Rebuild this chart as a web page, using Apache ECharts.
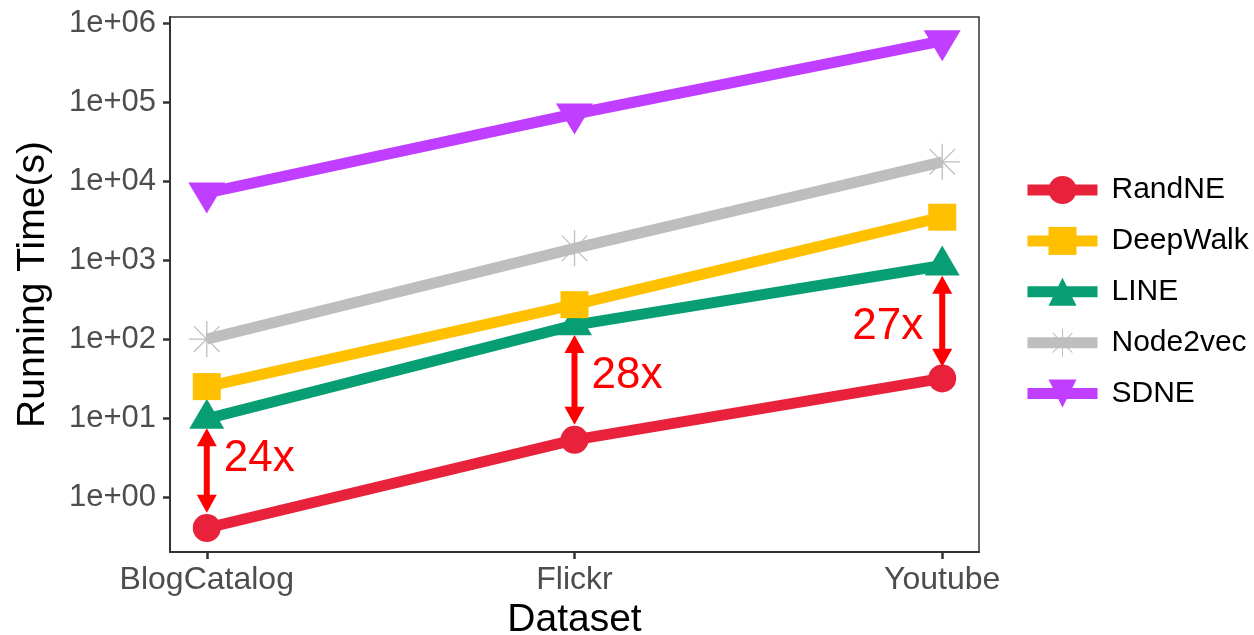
<!DOCTYPE html>
<html>
<head>
<meta charset="utf-8">
<script src="https://cdn.jsdelivr.net/npm/echarts@6/dist/echarts.min.js"></script>
<style>
  html, body { margin: 0; padding: 0; background: #ffffff; }
  #chart { width: 1254px; height: 635px; }
</style>
</head>
<body>
<div id="chart"></div>
<script>
// Running time (seconds) per embedding method on each dataset
const datasets = ['BlogCatalog', 'Flickr', 'Youtube'];
const randNE = [0.405, 5.3, 31.8];
const deepWalk = [25, 273, 3500];
const lineTimes = [9.8, 150, 855];
const node2vec = [100, 1410, 17600];
const sdne = [7100, 71000, 600000];

// Log-scale y ticks
const yTicks = [1, 10, 100, 1000, 10000, 100000, 1000000];
const yTickLabels = ['1e+00', '1e+01', '1e+02', '1e+03', '1e+04', '1e+05', '1e+06'];

// Speed-up annotations between LINE and RandNE
const speedupLabels = ['24x', '28x', '27x'];
const arrowTop = [7.4, 113, 636];
const arrowBottom = [0.63, 8.2, 44.7];
const speedupLabelAt = [3.0, 34, 144];

const FONT = '"Liberation Sans", Arial, Helvetica, sans-serif';
const xs = datasets.map((_, i) => i);
const pairs = vals => vals.map((v, i) => [xs[i], v]);

// 8-armed asterisk built from four thin bars
const STAR = 'path://M0 48.2 L100 48.2 L100 51.8 L0 51.8 Z ' +
  'M48.2 0 L51.8 0 L51.8 100 L48.2 100 Z ' +
  'M15.9 13.4 L86.6 84.1 L84.1 86.6 L13.4 15.9 Z ' +
  'M86.6 15.9 L15.9 86.6 L13.4 84.1 L84.1 13.4 Z';
const DOWN_TRI = 'path://M0 0 L100 0 L50 86 Z';

const LW = 11;

function makeSeries(name, vals, color, symbol, size, offset, z) {
  return {
    name: name,
    type: 'line',
    data: pairs(vals),
    color: color,
    symbol: symbol,
    symbolSize: size,
    symbolOffset: offset || [0, 0],
    symbolKeepAspect: false,
    showAllSymbol: true,
    z: z,
    lineStyle: { color: color, width: LW, cap: 'butt' },
    itemStyle: { color: color, opacity: 1 },
    emphasis: { disabled: true },
    animation: false
  };
}

const series = [
  makeSeries('RandNE', randNE, '#E8223A', 'circle', 28, null, 2),
  makeSeries('LINE', lineTimes, '#079E73', 'triangle', [35, 30], [0, -5], 3),
  makeSeries('DeepWalk', deepWalk, '#FFC000', 'rect', [28, 27], null, 4),
  makeSeries('Node2vec', node2vec, '#BEBEBE', STAR, 36, null, 5),
  makeSeries('SDNE', sdne, '#BF3EFF', DOWN_TRI, [37, 31], [0, 5], 6),
  {
    name: 'speedup',
    type: 'custom',
    z: 10,
    silent: true,
    animation: false,
    data: xs.map(i => [i, arrowTop[i], arrowBottom[i], speedupLabelAt[i]]),
    renderItem: function (params, api) {
      const i = params.dataIndex;
      const x = api.value(0);
      const pTop = api.coord([x, api.value(1)]);
      const pBot = api.coord([x, api.value(2)]);
      const pLab = api.coord([x, api.value(3)]);
      const cx = pTop[0];
      const head = 18, half = 10;
      const red = '#FF0000';
      const onLeft = i === datasets.length - 1;
      return {
        type: 'group',
        children: [
          {
            type: 'line',
            shape: { x1: cx, y1: pTop[1] + head - 2, x2: cx, y2: pBot[1] - head + 2 },
            style: { stroke: red, lineWidth: 6 }
          },
          {
            type: 'polygon',
            shape: { points: [[cx, pTop[1]], [cx + half, pTop[1] + head], [cx - half, pTop[1] + head]] },
            style: { fill: red }
          },
          {
            type: 'polygon',
            shape: { points: [[cx, pBot[1]], [cx + half, pBot[1] - head], [cx - half, pBot[1] - head]] },
            style: { fill: red }
          },
          {
            type: 'text',
            style: {
              text: speedupLabels[i],
              x: onLeft ? cx - 19 : cx + 17,
              y: pLab[1],
              fill: red,
              font: '44px ' + FONT,
              align: onLeft ? 'right' : 'left',
              verticalAlign: 'middle'
            }
          }
        ]
      };
    }
  }
];

const chart = echarts.init(document.getElementById('chart'), null, { renderer: 'canvas' });
chart.setOption({
  animation: false,
  backgroundColor: '#ffffff',
  textStyle: { fontFamily: FONT },
  grid: {
    left: 170, right: 275, top: 17, bottom: 83,
    outerBoundsMode: 'none',
    containLabel: false,
    show: true, borderColor: '#333333', borderWidth: 1.5, backgroundColor: 'transparent'
  },
  legend: {
    orient: 'vertical',
    left: 1017,
    top: 170,
    itemWidth: 70,
    itemHeight: 35,
    itemGap: 20.9,
    selectedMode: false,
    data: ['RandNE', 'DeepWalk', 'LINE', 'Node2vec', 'SDNE'],
    lineStyle: { width: LW },
    textStyle: { fontSize: 30, color: '#000000', fontFamily: FONT, padding: [0, 0, 0, 9] }
  },
  xAxis: {
    type: 'value',
    min: -0.1,
    max: 2.1,
    name: 'Dataset',
    nameLocation: 'middle',
    nameGap: 47,
    nameTextStyle: { fontSize: 39, color: '#000000', fontFamily: FONT },
    axisLine: { show: true, onZero: false, lineStyle: { color: '#333333', width: 2 } },
    axisTick: { show: true, length: 7, lineStyle: { color: '#333333', width: 2.5 }, customValues: xs },
    axisLabel: {
      customValues: xs,
      margin: 12,
      fontSize: 32,
      color: '#4D4D4D',
      fontFamily: FONT,
      formatter: v => datasets[Math.round(v)]
    },
    splitLine: { show: false }
  },
  yAxis: {
    type: 'log',
    logBase: 10,
    min: 0.201,
    max: 1202000,
    name: 'Running Time(s)',
    nameLocation: 'middle',
    nameRotate: 90,
    nameGap: 117,
    nameTextStyle: { fontSize: 39, color: '#000000', fontFamily: FONT },
    axisLine: { show: true, onZero: false, lineStyle: { color: '#333333', width: 2 } },
    axisTick: { show: true, length: 7, lineStyle: { color: '#333333', width: 2.5 }, customValues: yTicks },
    axisLabel: {
      customValues: yTicks,
      margin: 14,
      fontSize: 31,
      color: '#4D4D4D',
      fontFamily: FONT,
      formatter: v => yTickLabels[yTicks.findIndex(t => Math.abs(Math.log10(t) - Math.log10(v)) < 1e-6)] || ''
    },
    splitLine: { show: false },
    minorSplitLine: { show: false }
  },
  series: series
});
</script>
</body>
</html>
